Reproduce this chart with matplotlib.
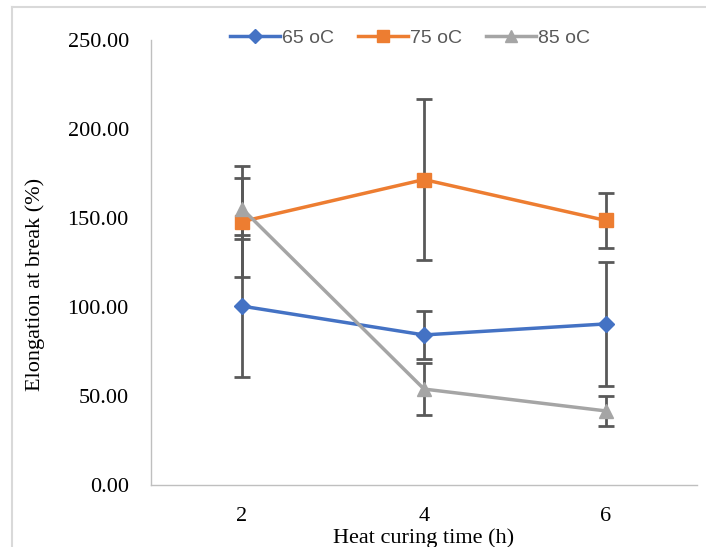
import numpy as np
import matplotlib.pyplot as plt
from matplotlib.lines import Line2D

# data
times = ["2", "4", "6"]
series_names = ["65 oC", "75 oC", "85 oC"]
elong_65 = [100.5, 84.3, 90.5]
elong_75 = [148.0, 171.6, 148.6]
elong_85 = [155.3, 53.9, 41.6]
err_65 = [40.0, 13.5, 35.0]
err_75 = [31.0, 45.0, 15.6]
err_85 = [17.0, 14.6, 8.4]

colors = ["#4472C4", "#ED7D31", "#A5A5A5"]
markers = ["D", "s", "^"]
msizes = [8, 10, 10]

W, H = 706, 547
fig = plt.figure(figsize=(W / 100, H / 100), dpi=100)
ax = fig.add_axes([151 / W, 1 - 485 / H, 546 / W, 445 / H])

x = np.arange(len(times))
vals = [elong_65, elong_75, elong_85]
errs = [err_65, err_75, err_85]

# error bars first (under the lines)
for v, e in zip(vals, errs):
    ax.errorbar(x, v, yerr=e, fmt="none", ecolor="#595959", elinewidth=2,
                capsize=6, capthick=2, zorder=2)

handles = []
for v, c, m, ms, name in zip(vals, colors, markers, msizes, series_names):
    h, = ax.plot(x, v, color=c, lw=2.5, marker=m, markersize=ms,
                 markeredgecolor=c, label=name, zorder=3)
    handles.append(h)

ax.set_xlim(-0.5, 2.5)
ax.set_ylim(0, 250)
ax.set_xticks(x)
ax.set_xticklabels(times)
yt = np.arange(0, 251, 50)
ax.set_yticks(yt)
ax.set_yticklabels([f"{t:.2f}" for t in yt])

for s in ["top", "right"]:
    ax.spines[s].set_visible(False)
for s in ["left", "bottom"]:
    ax.spines[s].set_color("#BFBFBF")
    ax.spines[s].set_linewidth(1)
ax.tick_params(length=0, labelsize=16, colors="#000000")
ax.tick_params(axis="y", pad=16)
ax.tick_params(axis="x", pad=16)
for lab in ax.get_xticklabels() + ax.get_yticklabels():
    lab.set_family("Liberation Serif")

fig.text(424 / W, 1 - 543 / H, "Heat curing time (h)", family="Liberation Serif",
         fontsize=16, ha="center", va="baseline")
fig.text(35 / W, 1 - 284 / H, "Elongation at break (%)", family="Liberation Serif",
         fontsize=16, ha="center", va="center", rotation=90)

fig.legend(handles=handles, loc="center", bbox_to_anchor=(410 / W, 1 - 38 / H),
           ncol=3, frameon=False, prop={"family": "Liberation Sans", "size": 14},
           handlelength=2.6, handletextpad=0.1, columnspacing=1.2,
           labelcolor="#595959", markerscale=0.9)

# chart-area border (only top and left visible in the reference)
fig.add_artist(Line2D([12 / W, 12 / W], [0, 1 - 7 / H], transform=fig.transFigure,
                      color="#D9D9D9", lw=1.5))
fig.add_artist(Line2D([12 / W, 1], [1 - 7 / H, 1 - 7 / H], transform=fig.transFigure,
                      color="#D9D9D9", lw=1.5))

fig.savefig("out.png", dpi=100)
